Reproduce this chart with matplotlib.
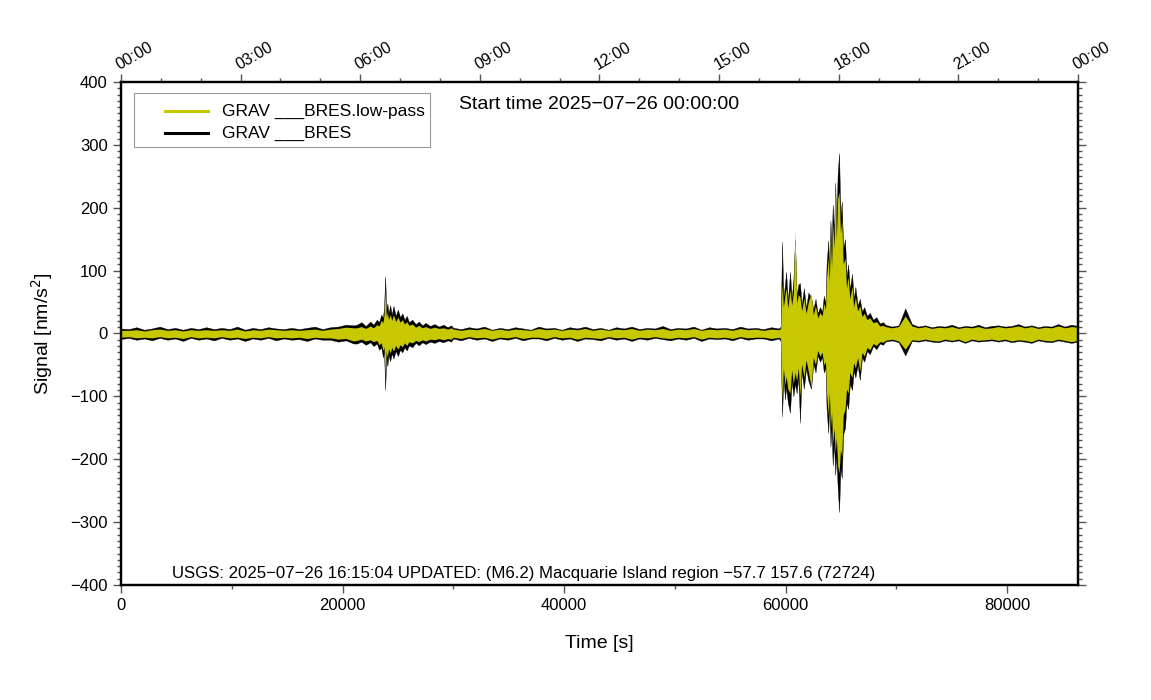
import numpy as np
import matplotlib
matplotlib.use('Agg')
import matplotlib.pyplot as plt
from matplotlib.ticker import MultipleLocator, FuncFormatter
from matplotlib.patches import Rectangle

plt.rcParams['font.family'] = ['Liberation Sans', 'DejaVu Sans']

# envelope of the trace (max / min per time window)
# quiet part before the first event
t_a = np.arange(0, 21001, 700)
raw_max_a = [8, 7, 10, 6, 8, 11, 7, 9, 6, 9, 7, 10, 7, 9, 7, 11, 6, 9, 7, 10,
             8, 7, 9, 7, 9, 11, 7, 10, 11, 14, 13]
raw_min_a = [-9, -7, -10, -8, -11, -7, -10, -8, -12, -7, -10, -8, -11, -7, -10, -8, -12, -8, -10, -7,
             -11, -8, -10, -9, -12, -8, -10, -10, -13, -11, -16]
lp_max_a = [5, 5, 6, 4, 6, 7, 5, 6, 4, 6, 5, 6, 5, 6, 5, 7, 4, 6, 5, 7,
            6, 5, 6, 5, 6, 7, 5, 7, 8, 10, 9]
lp_min_a = [-6, -5, -7, -6, -7, -5, -7, -6, -8, -5, -7, -6, -7, -5, -7, -6, -8, -6, -7, -5,
            -7, -6, -7, -6, -8, -6, -7, -7, -9, -8, -12]

# first event (around 06:30)
t_b = [21300, 21700, 22100, 22500, 22800, 23100, 23300, 23500, 23650, 23750,
       23850, 23950, 24050, 24150, 24300, 24450, 24600, 24800, 25000, 25200,
       25400, 25600, 25800, 26000, 26300, 26600, 26900, 27200, 27500, 27900,
       28300, 28700, 29100, 29500, 29800]
raw_max_b = [14, 18, 12, 19, 14, 22, 18, 30, 25, 42, 91, 38, 48, 32, 45, 30, 44, 28, 38, 26,
             32, 22, 28, 18, 22, 15, 19, 13, 17, 12, 15, 11, 14, 10, 13]
raw_min_b = [-16, -13, -18, -14, -20, -16, -26, -22, -38, -30, -90, -40, -52, -35, -44, -32, -40, -28, -36, -26,
             -30, -22, -27, -19, -22, -15, -19, -14, -17, -13, -15, -12, -14, -11, -13]
lp_max_b = [9, 11, 8, 12, 9, 14, 12, 21, 17, 30, 70, 26, 34, 22, 30, 21, 30, 19, 26, 18,
            22, 15, 19, 13, 15, 10, 13, 9, 11, 8, 10, 8, 9, 7, 9]
lp_min_b = [-11, -9, -12, -10, -13, -11, -18, -15, -27, -21, -66, -28, -38, -24, -31, -22, -28, -19, -25, -18,
            -21, -15, -19, -13, -15, -11, -13, -10, -12, -9, -10, -8, -10, -8, -9]

# quiet part between the events
t_c = np.arange(30000, 59401, 700)
raw_max_c = [9, 7, 10, 8, 11, 6, 9, 7, 10, 8, 6, 11, 8, 9, 6, 10, 8, 11, 7, 9,
             6, 10, 8, 11, 7, 9, 8, 12, 7, 9, 8, 11, 6, 10, 8, 9, 7, 11, 8, 9,
             7, 10, 8]
raw_min_c = [-8, -11, -7, -10, -8, -12, -8, -10, -7, -11, -8, -8, -11, -7, -10, -8, -12, -8, -9, -11,
             -7, -10, -8, -12, -8, -10, -7, -9, -11, -8, -10, -7, -12, -8, -9, -8, -11, -7, -10, -8,
             -8, -11, -8]
lp_max_c = [7, 5, 7, 6, 8, 5, 7, 5, 7, 6, 5, 8, 6, 7, 5, 7, 6, 8, 5, 7,
            5, 7, 6, 8, 5, 7, 6, 8, 5, 7, 6, 8, 5, 7, 6, 7, 5, 8, 6, 7,
            5, 7, 6]
lp_min_c = [-6, -8, -5, -7, -6, -9, -6, -7, -5, -8, -6, -6, -8, -5, -7, -6, -9, -6, -7, -8,
            -5, -7, -6, -9, -6, -7, -5, -7, -8, -6, -7, -5, -9, -6, -7, -6, -8, -5, -7, -6,
            -6, -8, -6]

# main event (M6.2 Macquarie Island)
t_d = [59550, 59680, 59800, 59950, 60050, 60200, 60400, 60550, 60700, 60850,
       61000, 61150, 61300, 61450, 61650, 61850, 62050, 62300, 62500, 62700,
       62900, 63100, 63300, 63450, 63600, 63700, 63850, 63950, 64050, 64150,
       64250, 64370, 64480, 64580, 64700, 64830, 64950, 65070, 65200, 65370,
       65500, 65650, 65800, 66000, 66150, 66300, 66500, 66700, 66900, 67100,
       67350, 67600, 67900, 68200, 68500, 68800]
raw_max_d = [11, 146, 55, 80, 98, 50, 98, 55, 85, 150,
             60, 78, 80, 45, 72, 40, 65, 58, 38, 55,
             32, 42, 35, 60, 48, 110, 148, 100, 180, 130,
             205, 160, 240, 175, 255, 287, 185, 210, 135, 150,
             90, 110, 70, 95, 55, 74, 45, 55, 35, 42,
             28, 33, 22, 26, 16, 18]
raw_min_d = [-12, -132, -70, -105, -85, -110, -126, -75, -100, -80,
             -95, -70, -142, -60, -88, -55, -75, -88, -48, -62,
             -35, -45, -38, -62, -55, -120, -158, -115, -180, -150,
             -210, -175, -225, -195, -245, -284, -215, -230, -160, -150,
             -110, -120, -80, -90, -60, -70, -50, -74, -38, -45,
             -28, -33, -20, -25, -16, -18]
lp_max_d = [8, 80, 42, 62, 72, 40, 70, 45, 65, 166,
            48, 62, 58, 36, 56, 32, 50, 64, 30, 44,
            25, 33, 28, 48, 38, 90, 120, 82, 155, 105,
            175, 135, 239, 150, 215, 225, 160, 180, 110, 120,
            72, 90, 55, 75, 42, 58, 36, 44, 27, 32,
            22, 25, 17, 19, 12, 13]
lp_min_d = [-8, -103, -55, -82, -68, -88, -95, -58, -80, -62,
            -75, -55, -100, -48, -70, -42, -60, -85, -38, -50,
            -27, -36, -30, -50, -45, -95, -130, -92, -150, -125,
            -175, -150, -190, -165, -210, -222, -185, -195, -130, -120,
            -88, -95, -62, -70, -46, -55, -38, -60, -30, -36,
            -22, -26, -16, -19, -13, -14]

# coda and rest of the day
t_e = np.arange(69000, 86401, 600)
raw_max_e = [14, 11, 13, 40, 15, 11, 13, 10, 12, 11, 14, 10, 12, 11, 14, 10, 12, 13, 11, 12,
             15, 11, 13, 10, 12, 11, 15, 11, 14, 12]
raw_min_e = [-13, -11, -14, -35, -12, -13, -11, -13, -14, -11, -13, -11, -15, -11, -13, -12, -11, -13, -11, -14,
             -12, -13, -15, -11, -13, -14, -11, -13, -15, -13]
lp_max_e = [11, 9, 11, 28, 12, 9, 11, 8, 10, 9, 11, 8, 10, 9, 11, 8, 9, 11, 9, 10,
            12, 9, 11, 8, 10, 9, 12, 9, 11, 10]
lp_min_e = [-11, -9, -12, -25, -10, -11, -9, -11, -12, -9, -11, -9, -13, -9, -11, -10, -9, -11, -9, -12,
            -10, -11, -13, -9, -11, -12, -9, -11, -13, -11]

hour_ticks = np.arange(0, 86401, 10800)
hour_labels = ['00:00', '03:00', '06:00', '09:00', '12:00', '15:00', '18:00', '21:00', '00:00']
series_labels = ['GRAV ___BRES.low-pass', 'GRAV ___BRES']

t = np.concatenate([t_a, t_b, t_c, t_d, t_e])
raw_max = np.concatenate([raw_max_a, raw_max_b, raw_max_c, raw_max_d, raw_max_e])
raw_min = np.concatenate([raw_min_a, raw_min_b, raw_min_c, raw_min_d, raw_min_e])
lp_max = np.concatenate([lp_max_a, lp_max_b, lp_max_c, lp_max_d, lp_max_e])
lp_min = np.concatenate([lp_min_a, lp_min_b, lp_min_c, lp_min_d, lp_min_e])

yellow = '#c8c800'
tick_col = '#555555'

fig = plt.figure(figsize=(11.51, 7.0), dpi=100)
ax = fig.add_axes([0.1051, 0.1643, 0.8315, 0.7186])

ax.fill_between(t, raw_min, raw_max, color='black', lw=0.25)
ax.fill_between(t, lp_min, lp_max, color=yellow, lw=0)

ax.set_xlim(0, 86400)
ax.set_ylim(-400, 400)
ax.xaxis.set_major_locator(MultipleLocator(20000))
ax.xaxis.set_minor_locator(MultipleLocator(10000))
ax.yaxis.set_major_locator(MultipleLocator(100))
ax.yaxis.set_minor_locator(MultipleLocator(10))
ax.tick_params(which='both', direction='out', right=True, labelsize=12, color=tick_col)
ax.tick_params(which='major', length=6, width=1)
ax.tick_params(which='minor', length=3, width=1)
ax.yaxis.set_major_formatter(FuncFormatter(lambda v, p: f'{v:.0f}'.replace('-', '\u2212')))
for s in ax.spines.values():
    s.set_linewidth(1.6)

ax.set_xlabel('Time [s]', fontsize=14, labelpad=16)
ax.set_ylabel('Signal [nm/s$^2$]', fontsize=14, labelpad=11)

top = ax.twiny()
top.set_xlim(0, 86400)
top.set_xticks(hour_ticks)
top.set_xticklabels(hour_labels, rotation=30, ha='left', va='bottom', rotation_mode='anchor')
top.xaxis.set_minor_locator(MultipleLocator(3600))
top.tick_params(which='both', direction='out', labelsize=11.5, color=tick_col, pad=1)
top.tick_params(which='major', length=6, width=1)
top.tick_params(which='minor', length=3, width=1)
for s in top.spines.values():
    s.set_linewidth(1.6)

ax.text(0.5, 0.955, 'Start time 2025\u221207\u221226 00:00:00', transform=ax.transAxes,
        ha='center', va='center', fontsize=14)
ax.text(0.053, 0.022, 'USGS: 2025\u221207\u221226 16:15:04 UPDATED: (M6.2) Macquarie Island region \u221257.7 157.6 (72724)',
        transform=ax.transAxes, ha='left', va='center', fontsize=12.1)

# legend box drawn like the GMT one
ax.add_patch(Rectangle((0.0136, 0.8708), 0.3093, 0.1074, transform=ax.transAxes,
                       facecolor='white', edgecolor='#999999', lw=0.8, zorder=5))
for yy, col, lab in zip([0.9423, 0.8986], [yellow, 'black'], series_labels):
    ax.plot([0.046, 0.0909], [yy, yy], color=col, lw=2.2, transform=ax.transAxes, zorder=6)
    ax.text(0.1055, yy, lab, transform=ax.transAxes, ha='left', va='center',
            fontsize=12.5, zorder=6)

fig.savefig('out.png', dpi=100)
